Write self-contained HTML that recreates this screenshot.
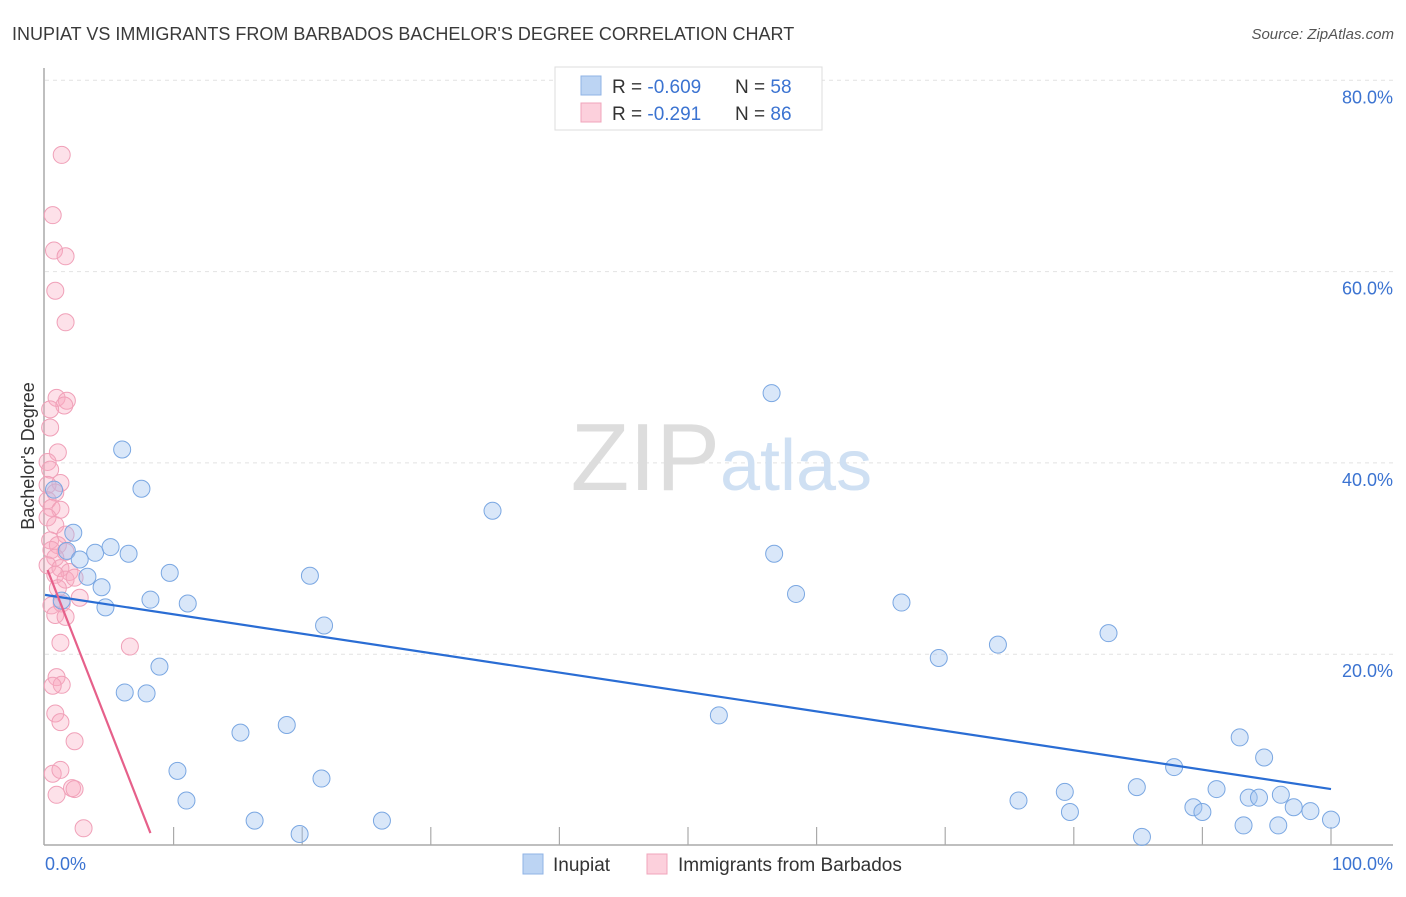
<!DOCTYPE html>
<html><head><meta charset="utf-8"><style>
body{margin:0;background:#fff;font-family:"Liberation Sans",sans-serif}
svg text{font-family:"Liberation Sans",sans-serif}
</style></head><body>
<svg id="c" width="1406" height="892" xmlns="http://www.w3.org/2000/svg">
<text x="12" y="40" font-size="18" fill="#3a3a3a">INUPIAT VS IMMIGRANTS FROM BARBADOS BACHELOR'S DEGREE CORRELATION CHART</text>
<text x="1394" y="39" font-size="15" fill="#555" font-style="italic" text-anchor="end">Source: ZipAtlas.com</text>
<g id="grid"></g>
<text x="720" y="490" font-size="96" fill="#ddd" text-anchor="end" font-family="Liberation Serif">ZIP</text>
<text x="720" y="490" font-size="72" fill="#cfe0f3">atlas</text>
<g id="axes"></g>
<g id="pts"></g>
<g id="lines"></g>
<text x="34" y="456" font-size="18" fill="#333" text-anchor="middle" transform="rotate(-90 34 456)">Bachelor's Degree</text>
<text x="45" y="870" font-size="18" fill="#3b73d1">0.0%</text>
<text x="1393" y="870" font-size="18" fill="#3b73d1" text-anchor="end">100.0%</text>
<g>
<rect x="555" y="67" width="267" height="63" fill="#fff" stroke="#ddd"/>
<rect x="581" y="76" width="20" height="19" fill="#bcd4f3" stroke="#8fb3e6"/>
<rect x="581" y="103" width="20" height="19" fill="#fcd0dc" stroke="#f0a5bb"/>
<text x="612" y="93" font-size="19" fill="#333">R = <tspan fill="#3b73d1">-0.609</tspan></text>
<text x="735" y="93" font-size="19" fill="#333">N = <tspan fill="#3b73d1">58</tspan></text>
<text x="612" y="120" font-size="19" fill="#333">R =  <tspan fill="#3b73d1">-0.291</tspan></text>
<text x="735" y="120" font-size="19" fill="#333">N = <tspan fill="#3b73d1">86</tspan></text>
</g>
<g>
<rect x="523" y="854" width="20" height="20" fill="#bcd4f3" stroke="#8fb3e6"/>
<text x="553" y="871" font-size="19" fill="#333">Inupiat</text>
<rect x="647" y="854" width="20" height="20" fill="#fcd0dc" stroke="#f0a5bb"/>
<text x="678" y="871" font-size="19" fill="#333">Immigrants from Barbados</text>
</g>
</svg>
<script>
const yTicks=[20,40,60,80];
const yTickLabels=["20.0%","40.0%","60.0%","80.0%"];
const xTicks=[0,10,20,30,40,50,60,70,80,90,100];
const blueX=[6.0,7.5,0.7,2.2,1.7,3.9,5.1,6.5,2.7,3.3,4.4,4.7,1.3,9.7,8.2,11.1,20.6,21.7,8.9,6.2,7.9,15.2,18.8,10.3,11.0,21.5,16.3,19.8,26.2,34.8,56.5,56.7,58.4,52.4,66.6,69.5,74.1,82.7,75.7,79.3,79.7,84.9,85.3,87.8,89.3,90.0,91.1,92.9,93.6,94.4,94.8,93.2,95.9,96.1,97.1,98.4,100];
const blueY=[41.4,37.3,37.2,32.7,30.8,30.6,31.2,30.5,29.9,28.1,27.0,24.9,25.6,28.5,25.7,25.3,28.2,23.0,18.7,16.0,15.9,11.8,12.6,7.8,4.7,7.0,2.6,1.2,2.6,35.0,47.3,30.5,26.3,13.6,25.4,19.6,21.0,22.2,4.7,5.6,3.5,6.1,0.9,8.2,4.0,3.5,5.9,11.3,5.0,5.0,9.2,2.1,2.1,5.3,4.0,3.6,2.7];
const pinkX=[1.3,0.6,0.7,1.6,0.8,1.6,0.9,1.7,1.5,0.4,0.4,1.0,0.2,0.4,1.2,0.2,0.8,0.2,0.5,1.2,0.2,0.8,1.6,0.4,1.0,0.5,1.6,0.8,0.2,1.2,1.9,0.8,1.6,2.3,1.0,2.7,0.5,1.3,0.8,1.6,1.2,6.6,0.9,1.3,0.6,0.8,1.2,2.3,0.6,1.2,2.1,2.3,0.9,3.0];
const pinkY=[72.2,65.9,62.2,61.6,58.0,54.7,46.8,46.5,46.0,45.6,43.7,41.1,40.1,39.3,37.9,37.7,36.9,36.1,35.3,35.1,34.3,33.5,32.5,31.9,31.4,30.9,30.7,30.1,29.3,29.0,28.6,28.3,27.8,28.0,26.9,25.9,25.1,25.3,24.1,23.9,21.2,20.8,17.6,16.8,16.7,13.8,12.9,10.9,7.5,7.9,6.0,5.9,5.3,1.8];
const blueTrend=[0,26.2,100,5.9];
const pinkTrend=[0.2,28.8,8.2,1.3];
const NS="http://www.w3.org/2000/svg";
const X=v=>45+v*12.86, Y=v=>845.5-v*9.565;
function mk(t,a,p){const e=document.createElementNS(NS,t);for(const k in a)e.setAttribute(k,a[k]);document.getElementById(p).appendChild(e);return e;}
yTicks.forEach((t,i)=>{
 const l=mk('line',{x1:45,x2:1393,y1:Y(t),y2:Y(t),stroke:'#e2e2e2','stroke-dasharray':'4,4'},'grid');
 
 
 const tx=mk('text',{x:1393,y:Y(t)+23,'font-size':18,fill:'#3b73d1','text-anchor':'end'},'grid');
 tx.textContent=yTickLabels[i];
 
 
});
mk('line',{x1:44,x2:44,y1:68,y2:845,stroke:'#aaa','stroke-width':1.5},'axes');
mk('line',{x1:44,x2:1393,y1:845,y2:845,stroke:'#aaa','stroke-width':1.5},'axes');
xTicks.forEach(t=>{if(t>0){const l=mk('line',{x1:X(t),x2:X(t),y1:827,y2:845,stroke:'#aaa','stroke-width':1.2},'axes');
 
 }});
pinkX.forEach((x,i)=>{const c=mk('circle',{cx:X(x),cy:Y(pinkY[i]),r:8.5,fill:'rgba(248,170,192,0.35)',stroke:'#f0a0b8','stroke-width':1},'pts');
 
 });
blueX.forEach((x,i)=>{const c=mk('circle',{cx:X(x),cy:Y(blueY[i]),r:8.5,fill:'rgba(160,196,240,0.4)',stroke:'#7aa7e2','stroke-width':1},'pts');
 
 });
const bl=mk('line',{x1:X(blueTrend[0]),y1:Y(blueTrend[1]),x2:X(blueTrend[2]),y2:Y(blueTrend[3]),stroke:'#2a6dd4','stroke-width':2.2},'lines');


const pl=mk('line',{x1:X(pinkTrend[0]),y1:Y(pinkTrend[1]),x2:X(pinkTrend[2]),y2:Y(pinkTrend[3]),stroke:'#e6608a','stroke-width':2.2},'lines');


</script>
</body></html>
